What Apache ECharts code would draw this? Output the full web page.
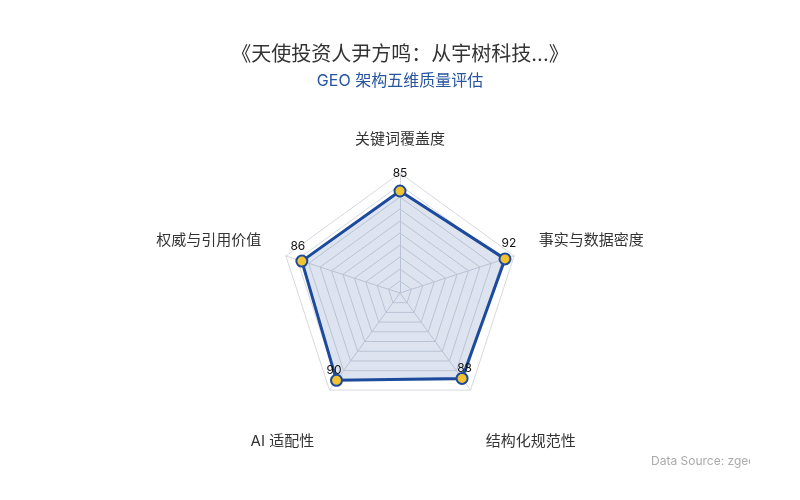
<!DOCTYPE html>
<html>
<head>
<meta charset="utf-8">
<script src="https://cdn.jsdelivr.net/npm/echarts@6/dist/echarts.min.js"></script>
<style>html,body{margin:0;padding:0;background:#fff}#c{width:800px;height:500px}</style>
</head>
<body>
<div id="c"></div>
<script>
const indicators = ['关键词覆盖度', '权威与引用价值', 'AI 适配性', '结构化规范性', '事实与数据密度'];
const values = [85, 86, 90, 88, 92];
const maxValue = 100;
const titleText = '《天使投资人尹方鸣：从宇树科技...》';
const subtitleText = 'GEO 架构五维质量评估';
const sourceText = 'Data Source: zgeo.cn';

const nameStyleKey = ['t', 's', 'b', 'b', 's'];
const labelStyleKey = ['v0', 'v1', 'v2', 'v3', 'v4'];
const FONT = 'Inter, "Noto Sans CJK SC", sans-serif';

const chart = echarts.init(document.getElementById('c'), null, {renderer: 'canvas'});
chart.setOption({
  backgroundColor: '#fff',
  title: {
    text: titleText,
    subtext: subtitleText,
    left: 'center',
    top: 40,
    itemGap: 8,
    textStyle: {fontFamily: FONT, fontSize: 20, fontWeight: 'normal', color: '#333'},
    subtextStyle: {fontFamily: FONT, fontSize: 16, color: '#2855a0'}
  },
  radar: {
    center: ['50%', '58.6%'],
    radius: 120,
    splitNumber: 10,
    shape: 'polygon',
    axisNameGap: 26,
    indicator: indicators.map(n => ({name: n, max: maxValue, min: 0})),
    axisName: {
      color: '#333', fontSize: 15, fontFamily: FONT,
      formatter: function (name) {
        const k = nameStyleKey[indicators.indexOf(name)];
        return '{' + k + '|' + name + '}';
      },
      rich: {
        t: {color: '#333', fontSize: 15, fontFamily: FONT},
        s: {color: '#333', fontSize: 15, fontFamily: FONT, padding: [0, 0, 14, 0]},
        b: {color: '#333', fontSize: 15, fontFamily: FONT, padding: [60, 0, 0, 0]}
      }
    },
    splitLine: {lineStyle: {color: '#d6d9df', width: 1}},
    splitArea: {show: false},
    axisLine: {lineStyle: {color: '#d6d9df'}}
  },
  series: [{
    type: 'radar',
    symbol: 'circle',
    symbolSize: 11,
    lineStyle: {color: '#1c4b9e', width: 3},
    itemStyle: {color: '#f2c230', borderColor: '#1c4b9e', borderWidth: 2},
    areaStyle: {color: 'rgba(30,80,160,0.22)'},
    label: {
      show: true, position: 'inside', color: '#111', fontSize: 12, fontFamily: 'Inter, sans-serif',
      formatter: function (p) {
        const k = labelStyleKey[values.indexOf(p.value)] || 'v0';
        return '{' + k + '|' + p.value + '}';
      },
      rich: {
        v0: {color: '#111', fontSize: 12, fontFamily: 'Inter, sans-serif', padding: [0, 0, 36, 0]},
        v1: {color: '#111', fontSize: 12, fontFamily: 'Inter, sans-serif', padding: [0, 8, 30, 0]},
        v2: {color: '#111', fontSize: 12, fontFamily: 'Inter, sans-serif', padding: [0, 5, 20, 0]},
        v3: {color: '#111', fontSize: 12, fontFamily: 'Inter, sans-serif', padding: [0, 0, 20, 5]},
        v4: {color: '#111', fontSize: 12, fontFamily: 'Inter, sans-serif', padding: [0, 0, 30, 8]}
      }
    },
    data: [{value: values, name: 'GEO'}]
  }],
  graphic: [
    {type: 'text', left: 651, top: 455, z: 10,
     style: {text: sourceText, fill: '#aaa', fontSize: 12, fontFamily: 'Inter, sans-serif'}},
    {type: 'rect', left: 750, top: 440, z: 20, shape: {width: 50, height: 40}, style: {fill: '#fff'}}
  ]
});
</script>
</body>
</html>
